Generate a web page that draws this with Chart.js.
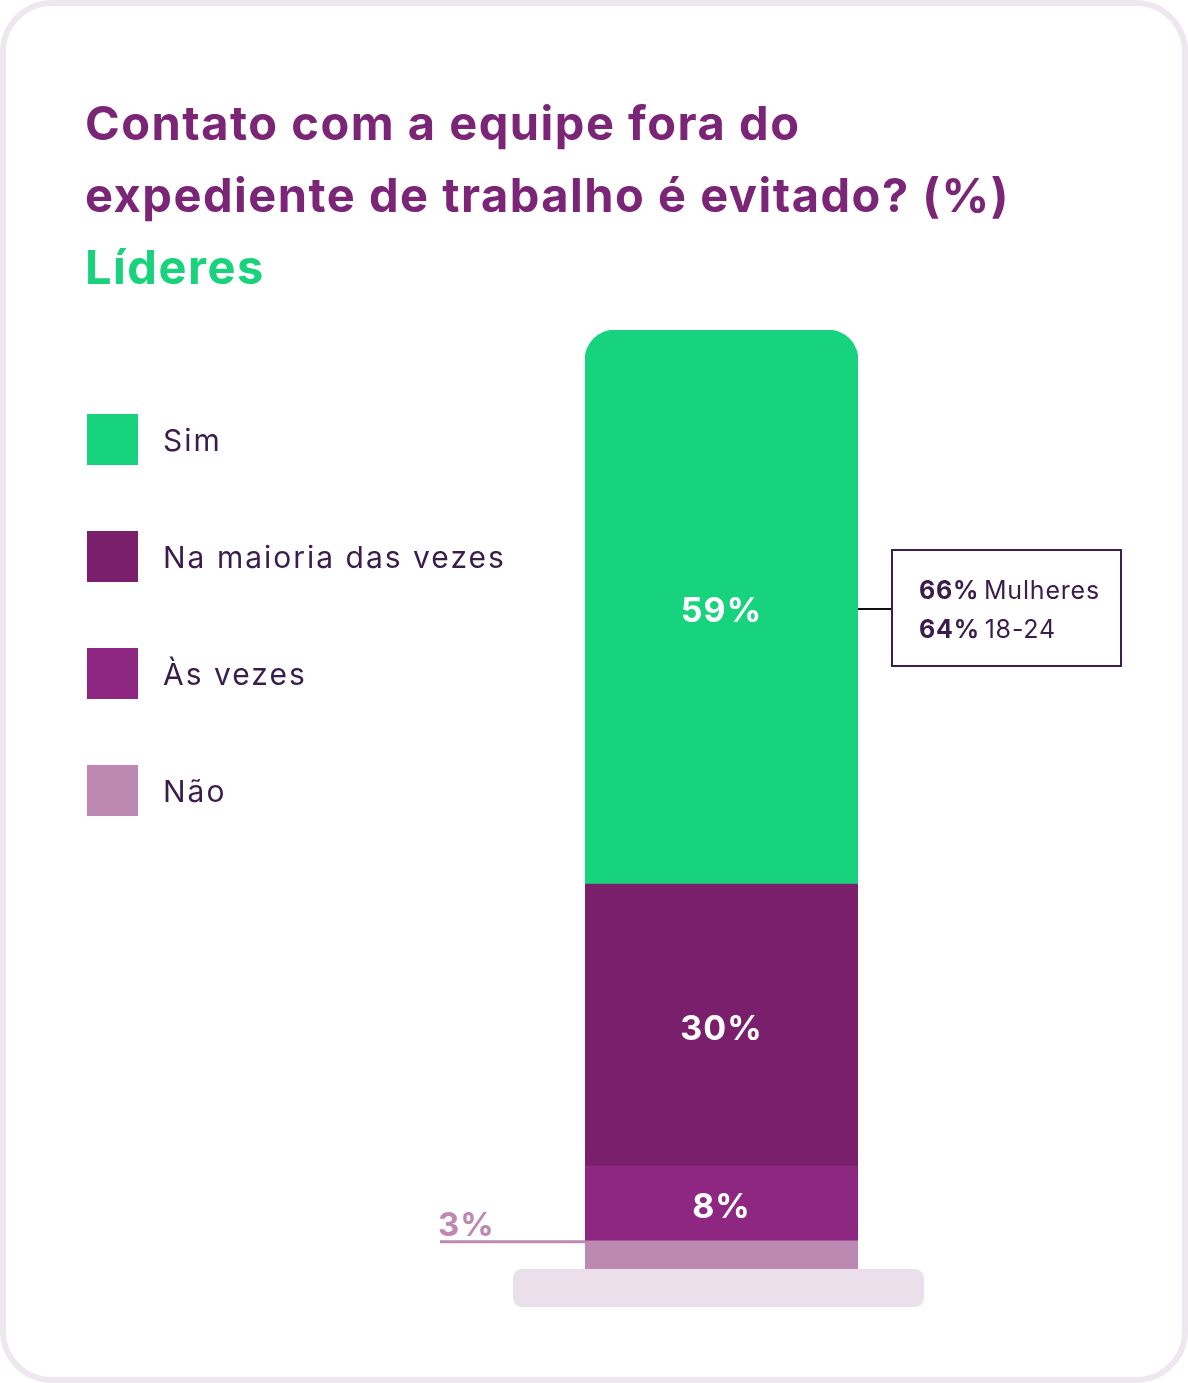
<!DOCTYPE html>
<html>
<head>
<meta charset="utf-8">
<script src="https://cdn.jsdelivr.net/npm/chart.js@4"></script>
<style>
  html, body { margin: 0; padding: 0; background: #fff; }
  body { width: 1188px; height: 1383px; position: relative; overflow: hidden; font-family: Inter, "Noto Sans", sans-serif; }
  .card {
    position: absolute; left: 0; top: 0; width: 1176px; height: 1371px;
    border: 6px solid #efe7f0; border-radius: 52px;
  }
  .title {
    position: absolute; left: 85px; top: 87px; margin: 0;
    font-size: 47px; font-weight: 700; line-height: 72px; color: #7b2577;
    letter-spacing: 1.5px;
  }
  .title .sub { color: #19d27c; }
  canvas { position: absolute; left: 0; top: 0; }
  .legend { position: absolute; left: 87px; top: 414px; }
  .legend .item { display: flex; align-items: center; height: 51px; margin-bottom: 66px; }
  .legend .sw { width: 51px; height: 51px; margin-right: 25px; }
  .legend .lbl { font-size: 30px; color: #3b1d4c; letter-spacing: 2px; }
</style>
</head>
<body>
<div class="card"></div>
<canvas id="myChart" width="1188" height="1383"></canvas>
<h1 class="title">Contato com a equipe fora do<br>expediente de trabalho é evitado? (%)<br><span class="sub">Líderes</span></h1>
<div class="legend" id="legend"></div>
<script>
// one stacked bar, bottom to top
const categories = ["Líderes"];
const seriesNames = ["Não", "Às vezes", "Na maioria das vezes", "Sim"];
const seriesValues = [3, 8, 30, 59];
const seriesColors = ["#bd89b2", "#8d2781", "#7a1f6b", "#18d37d"];
const noteLines = [["66%", "Mulheres"], ["64%", "18-24"]];

// legend (top to bottom = Sim first)
let legendBox = document.getElementById("legend");
for (let i = seriesNames.length - 1; i >= 0; i--) {
  legendBox.innerHTML += `<div class="item"><div class="sw" style="background:${seriesColors[i]}"></div><span class="lbl">${seriesNames[i]}</span></div>`;
}

const decorPlugin = {
  id: "decor",
  beforeDatasetsDraw(chart) {
    const ctx = chart.ctx;
    const bar = chart.getDatasetMeta(0).data[0];
    const left = bar.x - bar.width / 2 - 72;
    const right = bar.x + bar.width / 2 + 66;
    const top = chart.scales.y.getPixelForValue(0);
    ctx.save();
    ctx.fillStyle = "#ebdfeb";
    ctx.beginPath();
    ctx.roundRect(left, top, right - left, 38, 9);
    ctx.fill();
    ctx.restore();
  },
  afterDatasetsDraw(chart) {
    const ctx = chart.ctx;
    ctx.save();
    ctx.textAlign = "center";
    ctx.textBaseline = "middle";
    ctx.letterSpacing = "1px";
    chart.data.datasets.forEach((ds, i) => {
      const el = chart.getDatasetMeta(i).data[0];
      const mid = (el.y + el.base) / 2;
      const txt = ds.data[0] + "%";
      if (i === 0) {
        // small slice: label outside with a line
        ctx.strokeStyle = ds.backgroundColor;
        ctx.lineWidth = 3;
        ctx.beginPath();
        ctx.moveTo(440, el.y + 1);
        ctx.lineTo(el.x - el.width / 2, el.y + 1);
        ctx.stroke();
        ctx.fillStyle = ds.backgroundColor;
        ctx.font = "700 33px Inter, 'Noto Sans', sans-serif";
        ctx.textAlign = "left";
        ctx.textBaseline = "alphabetic";
        ctx.fillText(txt, 438, el.y - 5);
        ctx.textAlign = "center";
        ctx.textBaseline = "middle";
      } else {
        ctx.fillStyle = "#ffffff";
        ctx.font = "700 34px Inter, 'Noto Sans', sans-serif";
        ctx.fillText(txt, el.x, mid + 5);
      }
    });

    // note box for the top segment
    const top = chart.getDatasetMeta(3).data[0];
    const ly = (top.y + top.base) / 2 + 2;
    const bx = 892, by = 550, bw = 229, bh = 116;
    ctx.strokeStyle = "#111111";
    ctx.lineWidth = 2;
    ctx.beginPath();
    ctx.moveTo(top.x + top.width / 2, ly);
    ctx.lineTo(bx, ly);
    ctx.stroke();
    ctx.strokeStyle = "#3d1f4f";
    ctx.lineWidth = 2;
    ctx.strokeRect(bx, by, bw, bh);
    ctx.textAlign = "left";
    ctx.textBaseline = "alphabetic";
    ctx.fillStyle = "#3b1d4c";
    ctx.letterSpacing = "0.8px";
    noteLines.forEach((ln, k) => {
      const y = by + 49 + k * 39;
      ctx.font = "700 25px Inter, 'Noto Sans', sans-serif";
      ctx.fillText(ln[0], bx + 27, y);
      const w = ctx.measureText(ln[0] + " ").width;
      ctx.font = "400 25px Inter, 'Noto Sans', sans-serif";
      ctx.fillText(ln[1], bx + 25 + w, y);
    });
    ctx.restore();
  }
};

const ctx = document.getElementById("myChart");
new Chart(ctx, {
  type: "bar",
  data: {
    labels: categories,
    datasets: seriesNames.map((name, i) => ({
      label: name,
      data: [seriesValues[i]],
      backgroundColor: seriesColors[i],
      borderWidth: 0,
      borderSkipped: false,
      borderRadius: i === seriesNames.length - 1
        ? { topLeft: 30, topRight: 30, bottomLeft: 0, bottomRight: 0 }
        : 0,
      categoryPercentage: 1,
      barPercentage: 1,
    })),
  },
  options: {
    responsive: false,
    animation: false,
    events: [],
    layout: { padding: { left: 585, right: 330, top: 330, bottom: 114 } },
    plugins: { legend: { display: false }, tooltip: { enabled: false } },
    scales: {
      x: { stacked: true, display: false },
      y: { stacked: true, display: false, min: 0, max: 100 },
    },
  },
  plugins: [decorPlugin],
});
</script>
</body>
</html>
